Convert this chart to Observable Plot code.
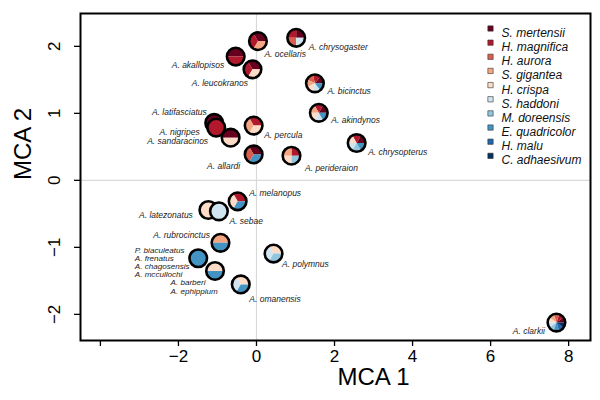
<!DOCTYPE html>
<html>
<head>
<meta charset="utf-8">
<script src="https://cdn.jsdelivr.net/npm/d3@7"></script>
<script src="https://cdn.jsdelivr.net/npm/@observablehq/plot@0.6"></script>
<style>
  html, body { margin: 0; padding: 0; background: #fff; }
  #chart { width: 600px; height: 400px; }
</style>
</head>
<body>
<div id="chart"></div>
<script>
// ---- data ----
const hosts = ["S. mertensii", "H. magnifica", "H. aurora", "S. gigantea", "H. crispa",
               "S. haddoni", "M. doreensis", "E. quadricolor", "H. malu", "C. adhaesivum"];
const hostColors = ["#67001f", "#b2182b", "#d6604d", "#f4a582", "#fddbc7",
                    "#d1e5f0", "#92c5de", "#4393c3", "#2166ac", "#053061"];

const fishNames = [
  "A. latifasciatus", "A. nigripes", "A. sandaracinos", "A. akallopisos", "A. ocellaris",
  "A. chrysogaster", "A. leucokranos", "A. bicinctus", "A. akindynos", "A. percula",
  "A. allardi", "A. perideraion", "A. chrysopterus", "A. melanopus", "A. latezonatus",
  "A. sebae", "A. rubrocinctus", "P. biaculeatus\nA. frenatus\nA. chagosensis\nA. mccullochi",
  "A. barberi\nA. ephippium", "A. polymnus", "A. omanensis", "A. clarkii"
];
const mca1 = [-1.07, -1.02, -0.65, -0.52, 0.05, 1.03, -0.09, 1.51, 1.61, -0.06,
              -0.06, 0.91, 2.58, -0.47, -1.22, -0.95, -0.91, -1.48, -1.05, 0.45, -0.39, 7.7];
const mca2 = [0.85, 0.78, 0.63, 1.84, 2.07, 2.12, 1.65, 1.44, 1.0, 0.81,
              0.38, 0.36, 0.55, -0.32, -0.45, -0.47, -0.94, -1.17, -1.36, -1.1, -1.56, -2.13];
// host anemones of each fish (indices into hosts)
const fishHosts = [
  [0], [1], [0, 4], [0, 1], [0, 1, 3],
  [0, 1, 2, 5], [0, 1, 4], [0, 1, 2, 3, 4, 5, 7], [0, 1, 3, 4, 5, 7], [1, 3, 4],
  [0, 2, 7], [1, 3, 4, 6], [0, 1, 4, 5, 6, 7], [1, 4, 7], [4],
  [5], [3, 7], [7], [4, 7], [4, 5, 6], [4, 5, 7], [0, 1, 2, 3, 4, 5, 6, 7, 8, 9]
];

const xTicks = [-4, -2, 0, 2, 4, 6, 8];
const yTicks = [-2, -1, 0, 1, 2];

// ---- label layout (pixels) ----
const labelAnchor = ["end", "end", "end", "end", "start", "start", "end", "start", "start", "start",
                     "end", "start", "start", "start", "end", "start", "end", "start", "start", "start", "start", "end"];
const labelDx = [-8, -17, -23, -12, 6, 12, -5, 12, 12, 10, -14, 13, 11, 11, -16, 10, -11, -64, -45, 8, 8, -12];
const labelDy = [-11, 4, 3, 8, 13, 9, 13, 7, 7, 9, 11, 12, 9, -9, 5, 9, -8, 4, 15.5, 10, 14, 8];

const fish = fishNames.map((name, i) => ({name, x: mca1[i], y: mca2[i], hosts: fishHosts[i]}));

const R = 8.8;
function pies(index, scales) {
  const g = d3.create("svg:g");
  fish.forEach(d => {
    const cx = scales.x(d.x), cy = scales.y(d.y);
    const pg = g.append("g").attr("transform", `translate(${cx},${cy})`);
    const n = d.hosts.length;
    d.hosts.forEach((h, k) => {
      const t1 = 2 * Math.PI * k / n, t2 = 2 * Math.PI * (k + 1) / n;
      pg.append("path")
        .attr("d", d3.arc()({innerRadius: 0, outerRadius: R, startAngle: Math.PI / 2 - t2, endAngle: Math.PI / 2 - t1}))
        .attr("fill", hostColors[h]);
    });
    pg.append("circle").attr("r", R).attr("fill", "none").attr("stroke", "#000").attr("stroke-width", 2.6);
  });
  return g.node();
}

const font = "'Liberation Sans', Arial, Helvetica, sans-serif";

const labelMarks = fish.map((d, i) => {
  const multi = d.name.includes("\n");
  return Plot.text([d], {
    x: "x", y: "y", text: "name",
    dx: labelDx[i], dy: labelDy[i], textAnchor: labelAnchor[i],
    fontSize: multi ? 8.1 : 8.5, fontStyle: "italic", fill: "#222",
    lineHeight: d.name.includes("barberi") ? 1.1 : 1.0
  });
});

const legendMarks = hosts.flatMap((h, i) => [
  Plot.dot([h], {frameAnchor: "top-left", dx: 410, dy: 15 + i * 14.15, symbol: "square", r: 3,
                 fill: hostColors[i], stroke: "#333", strokeWidth: 0.6}),
  Plot.text([h], {frameAnchor: "top-left", dx: 421, dy: 15 + i * 14.15, text: d => d,
                  textAnchor: "start", fontSize: 12, fontStyle: "italic", fill: "#111"})
]);

const chart = Plot.plot({
  width: 600,
  height: 400,
  marginLeft: 80,
  marginRight: 10,
  marginTop: 13,
  marginBottom: 60,
  style: {fontFamily: font, background: "#fff", color: "#000"},
  x: {domain: [-4.51, 8.56], label: null},
  y: {domain: [-2.39, 2.49], label: null},
  marks: [
    Plot.ruleX([0], {stroke: "#d9d9d9", strokeWidth: 1.2}),
    Plot.ruleY([0], {stroke: "#d9d9d9", strokeWidth: 1.2}),
    Plot.axisX({ticks: xTicks, tickSize: 6, tickPadding: 3, fontSize: 17, strokeWidth: 1.3,
                tickFormat: d => d === -4 ? "" : (d < 0 ? "\u2212" + Math.abs(d) : String(d)), label: null}),
    Plot.axisY({ticks: yTicks, tickSize: 6, tickFormat: () => "", strokeWidth: 1.3, label: null}),
    Plot.text(yTicks, {y: d => d, frameAnchor: "left", dx: -26, rotate: -90, textAnchor: "middle",
                       text: d => d < 0 ? "\u2212" + Math.abs(d) : String(d), fontSize: 17}),
    Plot.text(["MCA 1"], {frameAnchor: "bottom", dx: 38, dy: 44, text: d => d, fontSize: 24}),
    Plot.text(["MCA 2"], {frameAnchor: "left", dx: -57, dy: 3, rotate: -90, text: d => d, fontSize: 24}),
    pies,
    ...labelMarks,
    ...legendMarks,
    Plot.frame({stroke: "#000", strokeWidth: 2})
  ]
});
document.getElementById("chart").appendChild(chart);
</script>
</body>
</html>
